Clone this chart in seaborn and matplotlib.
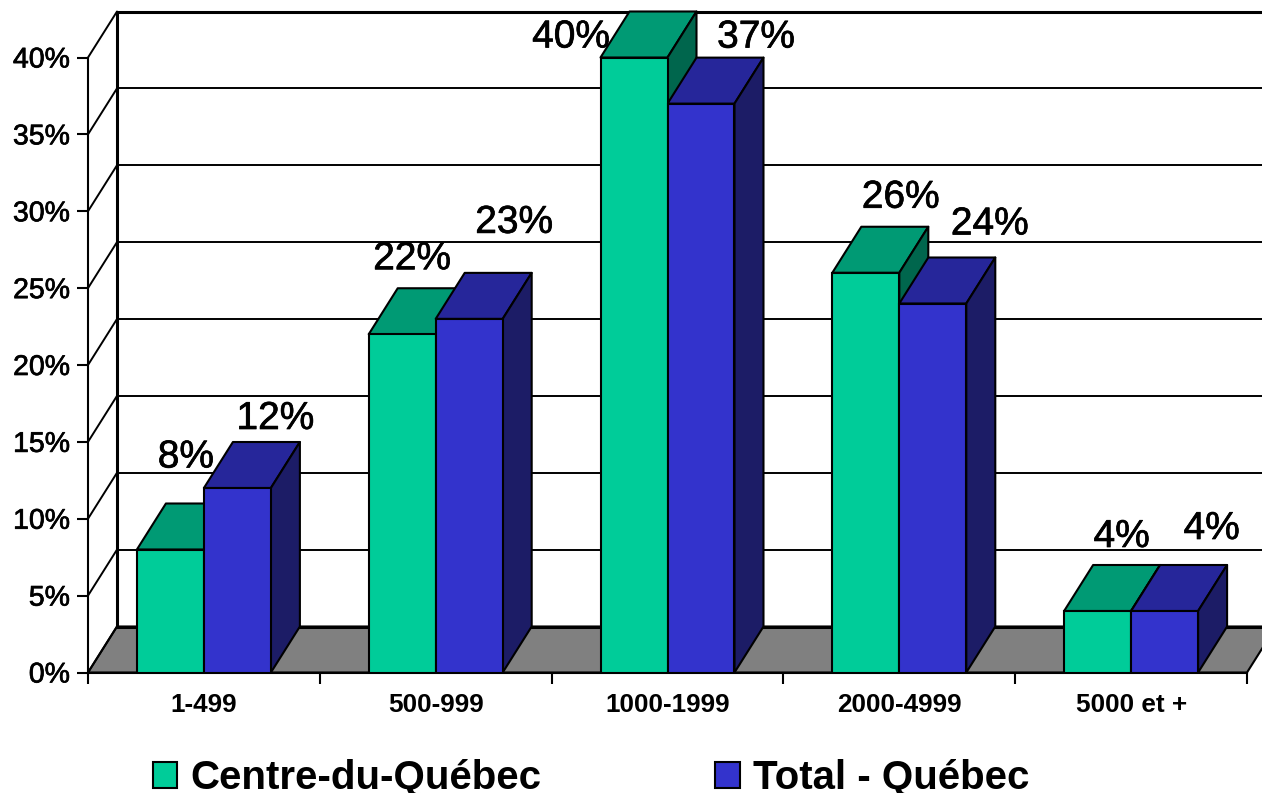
# -*- coding: utf-8 -*-
import matplotlib
matplotlib.use("Agg")
import matplotlib.pyplot as plt
import matplotlib.patheffects as pe
from matplotlib.patches import Polygon
from matplotlib.ticker import FuncFormatter, FixedLocator
import pandas as pd
import seaborn as sns

# Data
categories = ["1-499", "500-999", "1000-1999", "2000-4999", "5000 et +"]
centre_du_quebec = [8, 22, 40, 26, 4]
total_quebec = [12, 23, 37, 24, 4]
series_names = ["Centre-du-Québec", "Total - Québec"]

df = pd.DataFrame({
    "taille": categories * 2,
    "part": centre_du_quebec + total_quebec,
    "region": [series_names[0]] * 5 + [series_names[1]] * 5,
})

sns.set_style("white")
plt.rcParams["font.family"] = ["Liberation Sans", "DejaVu Sans"]

W, H = 1262, 793
fig = plt.figure(figsize=(W / 100, H / 100), dpi=100)
ax = fig.add_axes([88 / W, (H - 672.5) / H, 1159 / W, 615 / H])

front = {series_names[0]: "#00CC99", series_names[1]: "#3333CC"}
top = ["#009A74", "#26269A"]
side = ["#00664D", "#1C1C66"]

sns.barplot(data=df, x="taille", y="part", hue="region", palette=front, saturation=1,
            width=0.578, gap=0, edgecolor="black", linewidth=1.5, ax=ax)
ax.set_xlim(-0.5, 4.5)
ax.set_ylim(0, 40)
ax.set_xlabel("")
ax.set_ylabel("")

# depth of the fake 3D, in data units
dx = 29 * 5 / 1159
dy = 46 * 40 / 615

# heavier strokes for the regular weight labels
heavy = [pe.withStroke(linewidth=0.5, foreground="black")]

# floor and back wall
ax.add_patch(Polygon([(-0.5, 0), (4.5, 0), (4.5 + dx, dy), (-0.5 + dx, dy)],
                     closed=True, fc="#808080", ec="black", lw=1.5,
                     clip_on=False, zorder=1))
ax.plot([-0.5 + dx, -0.5 + dx], [dy, 40 + dy], color="black", lw=2.2,
        clip_on=False, zorder=1.5)
for v in range(0, 45, 5):
    ax.plot([-0.5 + dx, 4.5 + dx], [v + dy, v + dy], color="black",
            lw=2.2 if v in (0, 40) else 1.4, clip_on=False, zorder=1.5)
    ax.plot([-0.5, -0.5 + dx], [v, v + dy], color="black", lw=1.4,
            clip_on=False, zorder=1.5)

# tops and sides, built on the bars seaborn has drawn
label_offsets = [
    [(15.5, 92), (10, 75), (-63, 20), (35, 75), (24, 74)],
    [(38, 69), (45, 96), (55, 66), (57, 79), (47, 82)],
]
for s, container in enumerate(ax.containers):
    for i, bar in enumerate(container):
        x0, x1 = bar.get_x(), bar.get_x() + bar.get_width()
        h = bar.get_height()
        bar.set_zorder(5)
        ax.add_patch(Polygon([(x0, h), (x1, h), (x1 + dx, h + dy), (x0 + dx, h + dy)],
                             closed=True, fc=top[s], ec="black", lw=1.5,
                             clip_on=False, zorder=3 + s, joinstyle="round"))
        ax.add_patch(Polygon([(x1, 0), (x1 + dx, dy), (x1 + dx, h + dy), (x1, h)],
                             closed=True, fc=side[s], ec="black", lw=1.5,
                             clip_on=False, zorder=3 + s, joinstyle="round"))
        ax.annotate(f"{h:.0f}%", xy=((x0 + x1) / 2, h),
                    xytext=label_offsets[s][i], textcoords="offset pixels",
                    ha="center", va="center", fontsize=28, color="black",
                    annotation_clip=False, zorder=6, path_effects=heavy)

# axes
sns.despine(ax=ax, top=True, right=True)
for sp in ("left", "bottom"):
    ax.spines[sp].set_color("black")
    ax.spines[sp].set_linewidth(1.5)
    ax.spines[sp].set_zorder(2)
ax.set_yticks(range(0, 45, 5))
ax.yaxis.set_major_formatter(FuncFormatter(lambda v, p: f"{v:.0f}%"))
ax.tick_params(axis="y", left=True, length=8, width=1.5, color="black",
               labelsize=20.5, pad=5, labelcolor="black")
for t in ax.get_yticklabels():
    t.set_path_effects(heavy)
ax.xaxis.set_minor_locator(FixedLocator([-0.5, 0.5, 1.5, 2.5, 3.5, 4.5]))
ax.tick_params(axis="x", which="minor", bottom=True, length=8, width=1.5, color="black")
ax.tick_params(axis="x", which="major", bottom=False, labelsize=18.8, pad=11, labelcolor="black")
for t in ax.get_xticklabels():
    t.set_fontweight("bold")

# legend along the bottom
handles, labels = ax.get_legend_handles_labels()
leg = ax.legend(handles, labels, ncols=2, frameon=False, prop={"size": 29, "weight": "bold"},
                loc="center left", bbox_to_anchor=(153 / W, 1 - 778 / H),
                bbox_transform=fig.transFigure, borderpad=0, borderaxespad=0,
                handlelength=0.6, handleheight=0.6, handletextpad=0.33, columnspacing=4.32)
for t in leg.get_texts():
    t.set_color("black")

plt.savefig("out.png", dpi=100)
